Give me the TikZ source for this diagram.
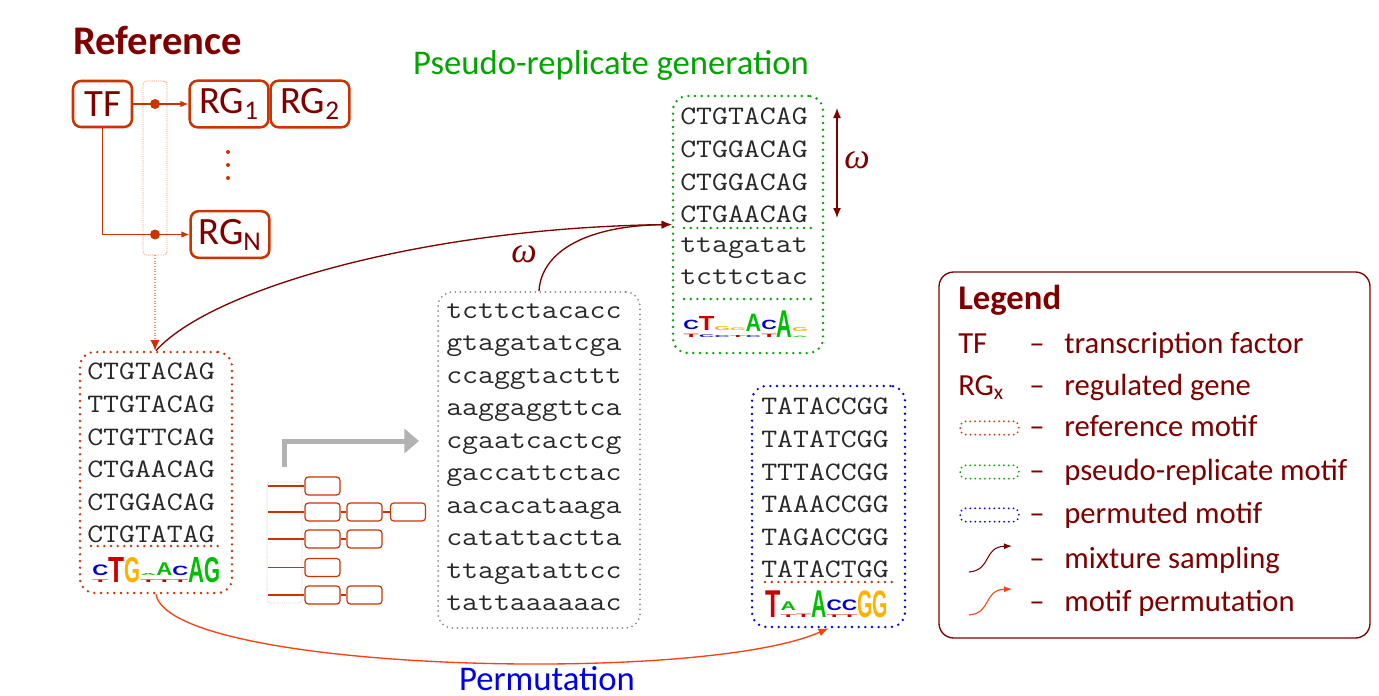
\documentclass[tikz,border=0pt]{standalone}
\usepackage{fontspec}
\setmainfont{Carlito}
\newfontfamily\seqfont{Latin Modern Mono}[FakeStretch=1.16]
\newfontfamily\logofont{Liberation Sans}
\newfontfamily\omegafont{Liberation Serif}
\usepackage{graphicx}
\usetikzlibrary{arrows.meta}

\definecolor{dred}{RGB}{128,0,0}
\definecolor{rust}{RGB}{204,51,0}
\definecolor{pale}{RGB}{240,150,110}
\definecolor{seqtext}{RGB}{40,40,40}
\definecolor{pgreen}{RGB}{0,165,0}
\definecolor{pblue}{RGB}{0,0,235}
\definecolor{dotgray}{RGB}{140,140,140}
\definecolor{arrgray}{RGB}{178,178,178}
\definecolor{permc}{RGB}{255,64,16}
\definecolor{lred}{RGB}{204,0,0}
\definecolor{lgreen}{RGB}{0,190,0}
\definecolor{lblue}{RGB}{0,0,204}
\definecolor{lorange}{RGB}{255,176,0}

% one column of a sequence logo
\newlength\logow
\newcommand{\logoch}[3]{\textcolor{#1}{\resizebox{\logow}{#2}{\logofont\bfseries #3}}}
\newcommand{\logost}[2]{\shortstack{#1\\#2}}

\begin{document}
\begin{tikzpicture}[x=0.75pt,y=-0.75pt,>=Latex]
	\tikzstyle{gene}=[draw=rust,line width=1.9pt,rounded corners=6pt,minimum width=59pt,minimum height=35pt,inner sep=0pt,text=dred,font=\fontsize{29}{29}\selectfont]
	\tikzstyle{motif}=[line width=2pt,dash pattern=on 0pt off 5pt,line cap=round,rounded corners=11pt,minimum width=114pt,minimum height=180.75pt]
	\tikzstyle{sep}=[line width=2pt,dash pattern=on 0pt off 5pt,line cap=round]
	\tikzstyle{seq}=[anchor=north west,align=left,inner sep=0pt,text=seqtext,font=\seqfont\fontsize{20}{24.4}\selectfont]
	\tikzstyle{logo}=[anchor=base west,inner sep=0pt]
	\tikzstyle{mini}=[draw=rust,line width=0.9pt,rounded corners=2.5pt,minimum width=26.25pt,minimum height=13.5pt,inner sep=0pt]
	\tikzstyle{lgtext}=[anchor=base west,inner sep=0pt,text=dred,font=\fontsize{23}{23}\selectfont]
	\tikzstyle{lgbox}=[line width=1.5pt,dash pattern=on 0pt off 3.6pt,line cap=round,rounded corners=4pt,minimum width=44pt,minimum height=10pt,inner sep=0pt]
	\tikzstyle{label}=[inner sep=0pt,font=\fontsize{26}{26}\selectfont]
	\tikzstyle{weight}=[inner sep=0pt,text=dred,font=\omegafont\itshape\fontsize{27}{27}\selectfont]
	\useasboundingbox (0,0) rectangle (1379,696);

	% reference network
	\node[anchor=base west,inner sep=0pt,text=dred,font=\bfseries\fontsize{30.5}{30.5}\selectfont] (title) at (73,55) {Reference};
	\node[gene,minimum width=44.25pt,minimum height=34.5pt] (TF) at (102.5,104) {TF};
	\node[gene] (RG1) at (229,104) {RG\textsubscript{1}};
	\node[gene] (RG2) at (310,104) {RG\textsubscript{2}};
	\node[gene] (RGN) at (230,234.5) {RG\textsubscript{N}};
	\node[draw=pale,line width=0.6pt,dash pattern=on 0.8pt off 0.8pt,rounded corners=2.5pt,minimum width=18pt,minimum height=130.5pt] (sites) at (155,168) {};
	\draw[rust,line width=1.1pt,-{Latex[length=6pt,width=5pt]}] (TF) -- (RG1);
	\draw[rust,line width=1.1pt,-{Latex[length=6pt,width=5pt]}] (TF.south) |- (RGN.west);
	\fill[rust] (155,104) circle (3.75pt);
	\fill[rust] (155,234.5) circle (3.75pt);
	\fill[rust] (228,152) circle (1.5pt);
	\fill[rust] (228,165) circle (1.5pt);
	\fill[rust] (228,178) circle (1.5pt);

	% motifs
	\node[motif,draw=rust] (ref) at (156,472.5) {};
	\node[motif,draw=pgreen,minimum width=112.5pt,minimum height=192.75pt] (pseudo) at (748,224.5) {};
	\node[motif,draw=dotgray,line width=1.5pt,dash pattern=on 0pt off 3.75pt,minimum width=151.5pt,minimum height=252pt] (bg) at (539,460) {};
	\node[motif,draw=pblue,minimum width=114.75pt] (perm) at (828.5,506.5) {};

	\node[seq] (refseq) at (87,363) {CTGTACAG\\TTGTACAG\\CTGTTCAG\\CTGAACAG\\CTGGACAG\\CTGTATAG};
	\node[seq] (pseq) at (680,108) {CTGTACAG\\CTGGACAG\\CTGGACAG\\CTGAACAG};
	\node[seq] (pbg) at (680,237) {ttagatat\\tcttctac};
	\node[seq] (bgseq) at (446,303) {tcttctacacc\\gtagatatcga\\ccaggtacttt\\aaggaggttca\\cgaatcactcg\\gaccattctac\\aacacataaga\\catattactta\\ttagatattcc\\tattaaaaaac};
	\node[seq] (permseq) at (761,398) {TATACCGG\\TATATCGG\\TTTACCGG\\TAAACCGG\\TAGACCGG\\TATACTGG};

	\draw[sep,rust] (91,546) -- (224,546);
	\draw[sep,pgreen] (684,228) -- (812,228);
	\draw[sep,pgreen] (684,299) -- (812,299);
	\draw[sep,rust] (765,582) -- (893,582);

	\node[logo] (reflogo) at (92,582) {\setlength\logow{12pt}%
		\logost{\logoch{lblue}{8pt}{C}}{\logoch{lred}{2pt}{T}}\logoch{lred}{18.75pt}{T}\logoch{lorange}{18.75pt}{G}%
		\logost{\logoch{lgreen}{1.5pt}{A}}{\logoch{lred}{2pt}{T}}\logost{\logoch{lgreen}{9.5pt}{A}}{\logoch{lred}{2pt}{T}}%
		\logost{\logoch{lblue}{7pt}{C}}{\logoch{lred}{2pt}{T}}\logoch{lgreen}{18.75pt}{A}\logoch{lgreen}{18.75pt}{G}};
	\node[logo] (plogo) at (683,337) {\setlength\logow{11.7pt}%
		\logost{\logoch{lblue}{7pt}{C}}{\logoch{lred}{2.5pt}{T}}\logost{\logoch{lred}{10.5pt}{T}}{\logoch{lblue}{2pt}{C}}%
		\logost{\logoch{lorange}{3pt}{G}}{\logoch{lblue}{1.5pt}{C}}\logost{\logoch{lorange}{2pt}{G}}{\logoch{lred}{1.5pt}{T}}%
		\logost{\logoch{lgreen}{13pt}{A}}{\logoch{lblue}{1.5pt}{C}}\logost{\logoch{lblue}{7pt}{C}}{\logoch{lred}{2.5pt}{T}}%
		\logoch{lgreen}{20pt}{A}\logost{\logoch{lorange}{3pt}{G}}{\logoch{lgreen}{1pt}{A}}};
	\node[logo] (permlogo) at (765,617) {\setlength\logow{11.5pt}%
		\logoch{lred}{20pt}{T}\logost{\logoch{lgreen}{6.5pt}{A}}{\logoch{lred}{2pt}{T}}\logoch{lred}{2.5pt}{T}%
		\logoch{lgreen}{20pt}{A}\logost{\logoch{lblue}{8pt}{C}}{\logoch{lred}{2pt}{T}}\logost{\logoch{lblue}{8pt}{C}}{\logoch{lred}{2pt}{T}}%
		\logoch{lorange}{20pt}{G}\logoch{lorange}{20pt}{G}};

	\draw[pale,line width=0.8pt,dash pattern=on 0.8pt off 1.2pt,-{Latex[length=8pt,width=7pt,color=rust]}] (sites.south) -- (sites.south |- ref.north);

	% omega window
	\coordinate (wtop) at (837,108);
	\coordinate (wbot) at (837,218);
	\draw[dred,line width=1pt,{Latex[length=7.5pt,width=6pt]}-{Latex[length=7.5pt,width=6pt]}] (wtop) -- (wbot);
	\node[weight] (w1) at (857,160) {ω};

	% mixture sampling and permutation
	\draw[dred,line width=1pt,-{Latex[length=7.5pt,width=6pt]}] (ref.north) .. controls (210,290) and (420,228) .. (pseudo.west);
	\draw[dred,line width=1pt,-{Latex[length=7.5pt,width=6pt]}] (bg.north) .. controls (541,255) and (580,226) .. (pseudo.west);
	\node[weight] (w2) at (524,254) {ω};
	\draw[permc,line width=1pt,-{Latex[length=7.5pt,width=6pt]}] (ref.south) .. controls (170,672) and (700,685) .. (perm.south);
	\node[label,text=pgreen,anchor=base] (gen) at (611,74) {Pseudo-replicate generation};
	\node[label,text=pblue,anchor=base] (permt) at (547,690) {Permutation};

	% gene sets feeding the background
	\coordinate (ga1) at (284,467);
	\coordinate (ga2) at (419,441);
	\draw[arrgray,line width=3.75pt,-{Triangle[length=11pt,width=18pt]}] (ga1) |- (ga2);
	\node[draw=black!20,line width=0.6pt,dash pattern=on 0.8pt off 0.8pt,rounded corners=2.5pt,minimum width=26.25pt,minimum height=90.75pt] (genes) at (284.5,542.5) {};
	\coordinate (t1) at (268,486);
	\coordinate (t2) at (268,512);
	\coordinate (t3) at (268,539);
	\coordinate (t4) at (268,567.5);
	\coordinate (t5) at (268,595);
	\node[mini] (b11) at (322.5,486) {};
	\node[mini] (b21) at (322.5,512) {};
	\node[mini] (b22) at (364.5,512) {};
	\node[mini] (b23) at (408,512) {};
	\node[mini] (b31) at (322.5,539) {};
	\node[mini] (b32) at (364.5,539) {};
	\node[mini] (b41) at (322.5,567.5) {};
	\node[mini] (b51) at (322.5,595) {};
	\node[mini] (b52) at (364.5,595) {};
	\draw[rust,line width=0.9pt] (t1) -- (b11);
	\draw[rust,line width=0.9pt] (t2) -- (b21) -- (b22) -- (b23);
	\draw[rust,line width=0.9pt] (t3) -- (b31) -- (b32);
	\draw[rust,line width=0.9pt] (t4) -- (b41);
	\draw[rust,line width=0.9pt] (t5) -- (b51) -- (b52);

	% legend
	\node[draw=dred,line width=1pt,rounded corners=11pt,minimum width=323.25pt,minimum height=274.5pt] (legend) at (1154.5,455) {};
	\node[lgtext,font=\bfseries\fontsize{26}{26}\selectfont] (lgt) at (958,309) {Legend};
	\node[lgtext] (k1) at (958,353) {TF};
	\node[lgtext] (k2) at (958,395) {RG\textsubscript{x}};
	\node[lgbox,draw=rust] (k3) at (989.5,428) {};
	\node[lgbox,draw=pgreen] (k4) at (989.5,472) {};
	\node[lgbox,draw=pblue] (k5) at (989.5,515) {};
	\coordinate (ms1) at (969,572);
	\coordinate (ms2) at (1012,546);
	\coordinate (mp1) at (969,615);
	\coordinate (mp2) at (1012,589);
	\draw[dred,line width=0.8pt,-{Latex[length=6pt,width=4.5pt]}] (ms1) .. controls (992,570) and (983,547) .. (ms2);
	\draw[permc,line width=0.8pt,-{Latex[length=6pt,width=4.5pt]}] (mp1) .. controls (992,613) and (983,590) .. (mp2);
	\node[lgtext] (d1) at (1029,353) {--};
	\node[lgtext] (d2) at (1029,395) {--};
	\node[lgtext] (d3) at (1029,436) {--};
	\node[lgtext] (d4) at (1029,480) {--};
	\node[lgtext] (d5) at (1029,523) {--};
	\node[lgtext] (d6) at (1029,568) {--};
	\node[lgtext] (d7) at (1029,611) {--};
	\node[lgtext] (e1) at (1064,353) {transcription factor};
	\node[lgtext] (e2) at (1064,395) {regulated gene};
	\node[lgtext] (e3) at (1064,436) {reference motif};
	\node[lgtext] (e4) at (1064,480) {pseudo-replicate motif};
	\node[lgtext] (e5) at (1064,523) {permuted motif};
	\node[lgtext] (e6) at (1064,568) {mixture sampling};
	\node[lgtext] (e7) at (1064,611) {motif permutation};
\end{tikzpicture}
\end{document}
